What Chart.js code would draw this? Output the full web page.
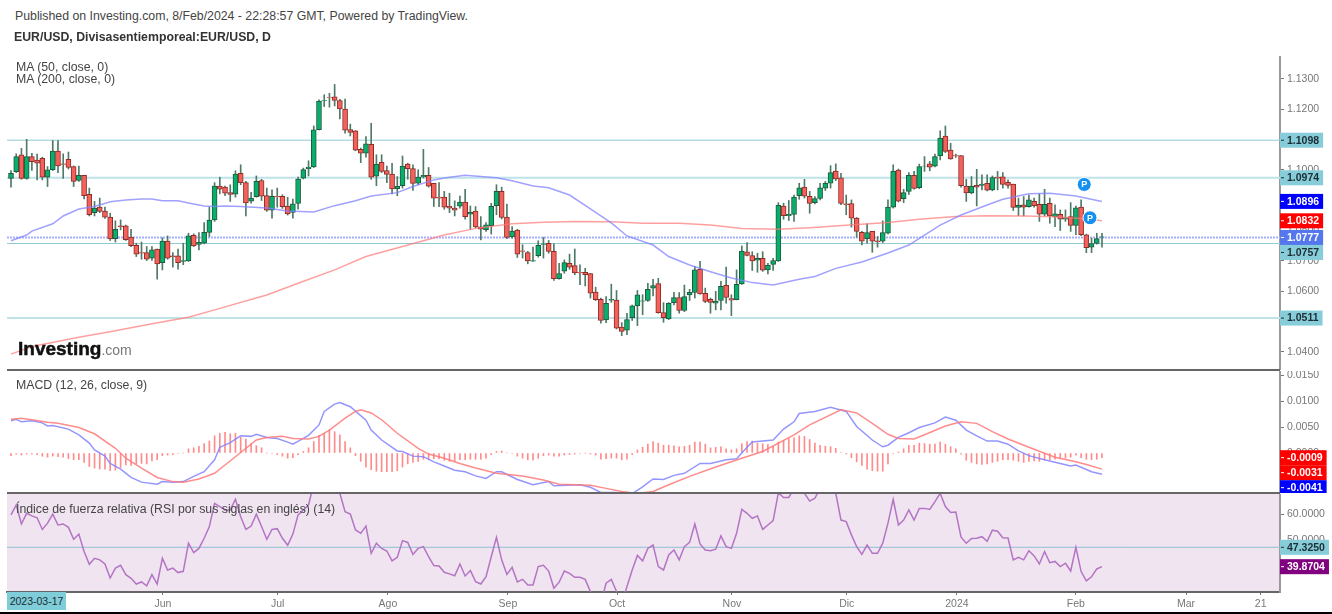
<!DOCTYPE html>
<html>
<head>
<meta charset="utf-8">
<title>EUR/USD</title>
<script src="https://cdn.jsdelivr.net/npm/chart.js@4"></script>
<style>
html, body { margin: 0; padding: 0; background: #fff; }
body { position: relative; width: 1332px; height: 614px; overflow: hidden; font-family: "Liberation Sans", Arial, sans-serif; color: #444; }
canvas { position: absolute; left: 0; }
#priceChart { top: 56px; }
#macdChart { top: 371px; }
#rsiChart { top: 494px; }
.txt { position: absolute; white-space: nowrap; font-size: 12.3px; line-height: 14px; }
.sep { position: absolute; left: 7px; width: 1273px; height: 2px; background: #666; }
#foot { position: absolute; left: 0; top: 612px; width: 1332px; height: 2px; background: #000; }
#startDate { position: absolute; left: 7px; top: 592px; width: 59px; height: 18px; line-height: 19px; background: #7fcdd9; color: #1c2c33; font-size: 10.5px; text-align: center; }
#logo { position: absolute; left: 18px; top: 337px; font-weight: bold; font-size: 19px; line-height: 24px; color: #111; -webkit-text-stroke: .5px #111; white-space: nowrap; }
#logo span { font-weight: normal; font-size: 14px; color: #777; -webkit-text-stroke: 0; }
</style>
</head>
<body>
<canvas id="priceChart" width="1332" height="314"></canvas>
<canvas id="macdChart" width="1332" height="122"></canvas>
<canvas id="rsiChart" width="1332" height="116"></canvas>
<div class="txt" style="left:15px;top:9px">Published on Investing.com, 8/Feb/2024 - 22:28:57 GMT, Powered by TradingView.</div>
<div class="txt" style="left:14px;top:30px;font-weight:bold;color:#333">EUR/USD, Divisasentiemporeal:EUR/USD, D</div>
<div class="txt" style="left:16px;top:60px">MA (50, close, 0)</div>
<div class="txt" style="left:16px;top:72px">MA (200, close, 0)</div>
<div class="txt" style="left:16px;top:378px">MACD (12, 26, close, 9)</div>
<div class="txt" style="left:16px;top:502px">Índice de fuerza relativa (RSI por sus siglas en inglés) (14)</div>
<div id="logo">Investing<span>.com</span></div>
<div class="sep" style="top:369px"></div>
<div class="sep" style="top:492px"></div>
<div id="startDate">2023-03-17</div>
<div id="foot"></div>
<script>
// daily candles, bar 1 is the first one on the left
var candleOpen = [
1.0972,1.0994,1.1050,1.0972,1.1044,1.1032,1.1038,1.0976,1.1001,1.1062,
1.1020,1.1035,1.1011,1.0965,1.0982,1.0919,1.0859,1.0877,1.0864,1.0844,
1.0773,1.0815,1.0815,1.0778,1.0751,1.0727,1.0727,1.0709,1.0739,1.0694,
1.0765,1.0716,1.0716,1.0698,1.0700,1.0784,1.0754,1.0758,1.0794,1.0835,
1.0947,1.0943,1.0925,1.0920,1.0989,1.0958,1.0897,1.0912,1.0965,1.0915,
1.0867,1.0913,1.0913,1.0881,1.0860,1.0889,1.0973,1.1004,1.1010,1.1133,
1.1228,1.1239,1.1241,1.1229,1.1201,1.1133,1.1129,1.1068,1.1055,1.1084,
1.0979,1.1025,1.0998,1.0986,1.0938,1.0948,1.1019,1.1004,1.0956,1.0977,
1.0982,1.0956,1.0910,1.0910,1.0880,1.0874,1.0880,1.0894,1.0854,1.0864,
1.0812,1.0803,1.0816,1.0882,1.0929,1.0844,1.0779,1.0801,1.0733,1.0727,
1.0699,1.0717,1.0754,1.0758,1.0731,1.0641,1.0666,1.0692,1.0684,1.0662,
1.0662,1.0658,1.0597,1.0573,1.0505,1.0570,1.0570,1.0481,1.0471,1.0512,
1.0551,1.0567,1.0569,1.0610,1.0625,1.0529,1.0508,1.0562,1.0579,1.0536,
1.0587,1.0596,1.0672,1.0593,1.0573,1.0560,1.0569,1.0619,1.0575,1.0572,
1.0624,1.0730,1.0717,1.0702,1.0708,1.0670,1.0688,1.0700,1.0881,1.0849,
1.0853,1.0915,1.0943,1.0913,1.0892,1.0906,1.0940,1.0956,1.0996,1.0974,
1.0888,1.0889,1.0841,1.0794,1.0773,1.0797,1.0766,1.0765,1.0791,1.0877,
1.0999,1.0905,1.0929,1.0982,1.0941,1.1012,1.1020,1.1012,1.1046,1.1112,
1.1065,1.1047,1.1047,1.0947,1.0924,1.0949,1.0949,1.0956,1.0934,1.0976,
1.0977,1.0959,1.0953,1.0876,1.0885,1.0879,1.0896,1.0886,1.0854,1.0890,
1.0846,1.0853,1.0837,1.0846,1.0817,1.0877,1.0786,1.0745,1.0757,1.0778];
var candleHigh = [
1.0998,1.1053,1.1071,1.1101,1.1055,1.1052,1.1042,1.1011,1.1097,1.1097,
1.1053,1.1059,1.1013,1.1013,1.0982,1.0940,1.0896,1.0907,1.0877,1.0857,
1.0832,1.0835,1.0818,1.0804,1.0758,1.0762,1.0747,1.0747,1.0739,1.0776,
1.0782,1.0727,1.0739,1.0758,1.0791,1.0789,1.0793,1.0826,1.0877,1.0958,
1.0976,1.0947,1.0951,1.0997,1.1017,1.0962,1.0926,1.0980,1.0969,1.0940,
1.0934,1.0940,1.0918,1.0910,1.0904,1.0976,1.1006,1.1030,1.1145,1.1231,
1.1248,1.1253,1.1282,1.1233,1.1234,1.1151,1.1130,1.1072,1.1110,1.1154,
1.1050,1.1050,1.1013,1.1022,1.0978,1.1046,1.1022,1.1017,1.1000,1.1068,
1.1008,1.0956,1.0958,1.0929,1.0923,1.0898,1.0914,1.0936,1.0881,1.0879,
1.0846,1.0826,1.0890,1.0951,1.0943,1.0887,1.0813,1.0804,1.0753,1.0731,
1.0745,1.0766,1.0777,1.0767,1.0756,1.0692,1.0703,1.0722,1.0739,1.0687,
1.0675,1.0659,1.0613,1.0577,1.0582,1.0623,1.0602,1.0496,1.0527,1.0554,
1.0602,1.0588,1.0626,1.0639,1.0642,1.0562,1.0562,1.0596,1.0595,1.0620,
1.0606,1.0681,1.0698,1.0610,1.0577,1.0599,1.0632,1.0679,1.0588,1.0670,
1.0749,1.0760,1.0730,1.0725,1.0730,1.0692,1.0708,1.0892,1.0890,1.0899,
1.0917,1.0956,1.0969,1.0929,1.0912,1.0956,1.0962,1.1014,1.1020,1.0989,
1.0917,1.0901,1.0843,1.0797,1.0822,1.0797,1.0780,1.0832,1.0901,1.1017,
1.1003,1.0936,1.0991,1.0995,1.1019,1.1044,1.1028,1.1052,1.1129,1.1145,
1.1088,1.1052,1.1047,1.0969,1.0978,1.1002,1.0984,1.0984,1.0980,1.0995,
1.0991,1.0967,1.0953,1.0907,1.0912,1.0917,1.0907,1.0921,1.0936,1.0907,
1.0885,1.0868,1.0868,1.0892,1.0881,1.0901,1.0788,1.0775,1.0791,1.0791];
var candleLow = [
1.0943,1.0991,1.0969,1.0969,1.0998,1.0967,1.0967,1.0945,1.0998,1.0991,
1.0972,1.1003,1.0945,1.0962,1.0904,1.0848,1.0848,1.0859,1.0840,1.0767,
1.0762,1.0802,1.0767,1.0747,1.0714,1.0705,1.0701,1.0701,1.0639,1.0670,
1.0705,1.0679,1.0672,1.0687,1.0698,1.0747,1.0736,1.0756,1.0780,1.0830,
1.0921,1.0915,1.0896,1.0910,1.0951,1.0848,1.0890,1.0910,1.0899,1.0863,
1.0841,1.0877,1.0873,1.0851,1.0841,1.0870,1.0970,1.0980,1.1008,1.1132,
1.1209,1.1207,1.1211,1.1168,1.1121,1.1112,1.1063,1.1024,1.1042,1.0969,
1.0948,1.0991,1.0958,1.0921,1.0915,1.0940,1.0969,1.0932,1.0951,1.0973,
1.0943,1.0879,1.0879,1.0870,1.0859,1.0848,1.0874,1.0837,1.0804,1.0808,
1.0769,1.0797,1.0788,1.0852,1.0838,1.0773,1.0775,1.0711,1.0709,1.0690,
1.0698,1.0712,1.0709,1.0725,1.0635,1.0639,1.0659,1.0672,1.0654,1.0621,
1.0617,1.0577,1.0569,1.0494,1.0496,1.0563,1.0475,1.0453,1.0456,1.0503,
1.0486,1.0522,1.0566,1.0584,1.0527,1.0497,1.0506,1.0554,1.0527,1.0532,
1.0569,1.0577,1.0590,1.0562,1.0527,1.0538,1.0538,1.0560,1.0519,1.0571,
1.0622,1.0716,1.0668,1.0662,1.0665,1.0657,1.0668,1.0698,1.0837,1.0833,
1.0830,1.0903,1.0907,1.0857,1.0888,1.0901,1.0932,1.0940,1.0965,1.0885,
1.0852,1.0811,1.0778,1.0752,1.0758,1.0728,1.0745,1.0760,1.0789,1.0874,
1.0894,1.0892,1.0919,1.0936,1.0938,1.0995,1.0997,1.1010,1.1033,1.1057,
1.1035,1.1041,1.0943,1.0896,1.0921,1.0881,1.0934,1.0931,1.0931,1.0934,
1.0940,1.0940,1.0866,1.0849,1.0848,1.0877,1.0877,1.0830,1.0849,1.0824,
1.0813,1.0800,1.0830,1.0797,1.0786,1.0783,1.0727,1.0727,1.0755,1.0745];
var candleClose = [
1.0989,1.1044,1.0972,1.1044,1.1027,1.1022,1.0976,1.1000,1.1062,1.1013,
1.1018,1.1008,1.0962,1.0982,1.0915,1.0852,1.0874,1.0863,1.0844,1.0772,
1.0804,1.0813,1.0770,1.0750,1.0722,1.0725,1.0705,1.0736,1.0690,1.0765,
1.0709,1.0714,1.0694,1.0701,1.0782,1.0749,1.0761,1.0794,1.0834,1.0947,
1.0936,1.0923,1.0919,1.0986,1.0958,1.0891,1.0907,1.0962,1.0913,1.0867,
1.0913,1.0912,1.0879,1.0855,1.0888,1.0970,1.1001,1.1009,1.1132,1.1227,
1.1229,1.1238,1.1229,1.1201,1.1131,1.1124,1.1065,1.1055,1.1086,1.0976,
1.1019,1.0995,1.0985,1.0937,1.0946,1.1013,1.1004,1.0955,1.0976,1.0982,
1.0946,1.0907,1.0907,1.0877,1.0874,1.0867,1.0894,1.0846,1.0860,1.0812,
1.0804,1.0819,1.0880,1.0929,1.0843,1.0777,1.0798,1.0722,1.0731,1.0700,
1.0701,1.0751,1.0756,1.0731,1.0641,1.0658,1.0694,1.0679,1.0660,1.0660,
1.0654,1.0593,1.0572,1.0503,1.0560,1.0573,1.0478,1.0467,1.0506,1.0551,
1.0588,1.0568,1.0606,1.0618,1.0529,1.0512,1.0560,1.0579,1.0536,1.0582,
1.0596,1.0670,1.0591,1.0566,1.0563,1.0567,1.0616,1.0579,1.0570,1.0622,
1.0732,1.0718,1.0700,1.0708,1.0669,1.0685,1.0701,1.0883,1.0849,1.0853,
1.0910,1.0941,1.0913,1.0889,1.0905,1.0941,1.0956,1.0991,1.0970,1.0889,
1.0885,1.0841,1.0797,1.0765,1.0793,1.0765,1.0763,1.0793,1.0877,1.0996,
1.0897,1.0925,1.0982,1.0939,1.1011,1.1013,1.1009,1.1044,1.1105,1.1061,
1.1036,1.1046,1.0948,1.0924,1.0947,1.0943,1.0953,1.0933,1.0975,1.0973,
1.0952,1.0949,1.0876,1.0883,1.0877,1.0901,1.0882,1.0854,1.0886,1.0848,
1.0855,1.0837,1.0843,1.0817,1.0875,1.0786,1.0743,1.0757,1.0773,1.0779];

// moving averages, read at the bars listed next to them
var ma50Bars = [1,4,5,9,11,14,17,20,23,26,28,30,33,35,38,40,42,45,50,54,59,63,67,70,75,78,82,84,88,94,97,101,104,108,112,116,119,124,127,131,135,139,143,147,152,155,159,164,169,173,176,179,183,188,191,196,200,205,210];
var ma50Values = [1.0766,1.0785,1.0798,1.0822,1.0848,1.0871,1.0879,1.0895,1.0901,1.0904,1.0904,1.0898,1.0898,1.0891,1.0881,1.0879,1.0881,1.0879,1.0874,1.0864,1.0861,1.0882,1.0898,1.0914,1.0925,1.0945,1.0967,1.0973,1.0982,1.0974,1.0964,1.0947,1.0941,1.0917,1.0871,1.0825,1.0782,1.0752,1.0714,1.0686,1.0664,1.0643,1.0628,1.0620,1.0639,1.0648,1.0675,1.0696,1.0726,1.0752,1.0785,1.0818,1.0851,1.0884,1.0903,1.0921,1.0923,1.0914,1.0896];
var ma200Bars = [1,5,14,21,28,35,40,50,56,63,69,76,84,90,97,103,109,116,122,129,135,141,148,154,161,169,175,182,188,195,201,207,210];
var ma200Values = [1.0392,1.0417,1.0448,1.0469,1.0492,1.0514,1.0538,1.0587,1.0626,1.0670,1.0714,1.0747,1.0785,1.0807,1.0822,1.0827,1.0830,1.0829,1.0824,1.0824,1.0818,1.0807,1.0804,1.0809,1.0817,1.0826,1.0837,1.0846,1.0849,1.0848,1.0845,1.0838,1.0832];

// support and resistance levels, last price
var levelValues = [1.1098,1.0974,1.0757,1.0511];
var levelStyles = [[1,'#8fcbd3'],[2,'#bfe3e8'],[1,'#8fcbd3'],[2,'#bfe3e8']];
var lastPrice = 1.0777;
var badgeBars = [206.6,207.7];
var badgeValues = [1.0952,1.0842];

// macd panel
var macdBars = [1,2,3,5,7,8,9,12,14,16,17,19,20,22,24,26,29,30,32,34,36,38,40,41,43,45,47,48,50,52,54,55,57,58,60,61,63,64,66,69,70,72,75,76,78,80,82,84,86,88,90,92,94,95,98,101,104,105,110,112,114,117,118,120,122,124,126,128,130,133,135,138,140,142,143,147,149,151,152,155,158,161,163,166,168,169,171,173,175,178,180,182,184,186,188,190,192,194,196,199,202,204,205,208,210];
var macdValues = [.0062,.0065,.0060,.0062,.0058,.0052,.0053,.0046,.0035,.0019,.0006,-.0006,-.0020,-.0031,-.0047,-.0056,-.0060,-.0055,-.0056,-.0055,-.0045,-.0036,-.0013,.0011,.0020,.0033,.0032,.0036,.0030,.0028,.0021,.0017,.0028,.0034,.0054,.0080,.0094,.0097,.0089,.0063,.0044,.0025,.0004,.0003,-.0006,-.0007,-.0017,-.0025,-.0033,-.0036,-.0044,-.0049,-.0036,-.0036,-.0051,-.0061,-.0055,-.0063,-.0061,-.0066,-.0076,-.0076,-.0083,-.0078,-.0065,-.0050,-.0051,-.0043,-.0039,-.0020,-.0020,-.0013,-.0011,.0011,.0021,.0025,.0046,.0060,.0076,.0080,.0088,.0080,.0051,.0025,.0012,.0015,.0030,.0039,.0049,.0058,.0069,.0063,.0044,.0033,.0023,.0023,.0017,.0004,-.0005,-.0013,-.0020,-.0025,-.0023,-.0036,-.0041];
var signalBars = [1,3,5,8,10,14,17,21,23,26,29,32,34,37,40,42,45,48,50,53,55,58,60,62,65,67,68,70,72,75,79,81,84,87,90,94,99,103,106,112,115,118,121,124,127,131,136,141,145,151,154,160,163,166,169,171,174,176,180,183,186,189,192,196,201,205,207,210];
var signalValues = [.0065,.0067,.0064,.0059,.0057,.0049,.0037,.0009,-.0010,-.0029,-.0047,-.0055,-.0056,-.0050,-.0039,-.0023,.0001,.0025,.0030,.0032,.0028,.0027,.0032,.0044,.0067,.0080,.0083,.0077,.0064,.0038,.0009,-.0002,-.0010,-.0020,-.0029,-.0039,-.0044,-.0052,-.0060,-.0062,-.0068,-.0074,-.0078,-.0074,-.0061,-.0045,-.0027,-.0010,.0003,.0035,.0054,.0083,.0077,.0057,.0036,.0028,.0027,.0035,.0052,.0060,.0057,.0041,.0027,.0011,-.0008,-.0017,-.0022,-.0031];
var histValues = [
-.0005,-.0002,-.0004,-.0002,-.0002,-.0003,-.0006,-.0008,-.0006,-.0007,
-.0008,-.0011,-.0013,-.0013,-.0018,-.0026,-.0029,-.0031,-.0031,-.0034,
-.0033,-.0028,-.0023,-.0024,-.0021,-.0020,-.0021,-.0015,-.0013,-.0005,
-.0004,-.0003,-.0001,0,.0008,.0010,.0013,.0018,.0023,.0033,
.0038,.0040,.0037,.0038,.0030,.0027,.0018,.0014,.0010,0,
-.0001,-.0003,-.0006,-.0010,-.0009,-.0003,.0003,.0010,.0022,.0034,
.0038,.0045,.0041,.0035,.0022,.0010,-.0005,-.0016,-.0027,-.0032,
-.0035,-.0036,-.0036,-.0036,-.0034,-.0027,-.0021,-.0018,-.0016,-.0012,
-.0013,-.0011,-.0011,-.0014,-.0016,-.0016,-.0013,-.0013,-.0012,-.0012,
-.0012,-.0010,-.0003,.0003,.0004,0,-.0001,-.0006,-.0010,-.0013,
-.0014,-.0010,-.0005,-.0004,-.0006,-.0006,-.0004,-.0003,-.0002,-.0001,
0,-.0002,-.0004,-.0012,-.0011,-.0010,-.0010,-.0013,-.0012,-.0003,
.0006,.0011,.0017,.0022,.0019,.0015,.0015,.0014,.0012,.0013,
.0015,.0021,.0021,.0017,.0010,.0011,.0012,.0008,.0006,.0008,
.0018,.0022,.0023,.0019,.0018,.0016,.0013,.0021,.0024,.0028,
.0029,.0033,.0032,.0026,.0019,.0015,.0013,.0012,.0009,.0001,
-.0002,-.0009,-.0017,-.0024,-.0031,-.0034,-.0035,-.0035,-.0021,-.0001,
.0002,.0008,.0015,.0015,.0019,.0018,.0017,.0017,.0021,.0017,
.0012,.0008,-.0002,-.0014,-.0018,-.0021,-.0022,-.0021,-.0018,-.0016,
-.0013,-.0013,-.0014,-.0016,-.0018,-.0016,-.0015,-.0016,-.0014,-.0013,
-.0012,-.0010,-.0010,-.0008,-.0004,-.0009,-.0012,-.0013,-.0012,-.0009];

// rsi panel
var rsiValues = [
59.8,63.6,56.3,60.4,59.4,58.7,54.2,56.6,60.1,55.9,
56.3,55.0,50.4,52.4,45.7,40.8,43.1,42.5,40.9,35.5,
39.3,40.4,36.8,35.4,33.2,34.0,32.5,36.8,33.2,43.1,
38.6,39.3,37.6,38.1,48.9,45.3,46.9,50.8,55.3,64.2,
63.0,61.7,61.7,65.8,59.1,54.2,55.5,60.1,55.3,50.4,
54.2,54.5,50.8,48.1,52.4,59.8,61.7,63.6,71.9,74.5,
77.1,75.8,73.2,68.1,61.0,60.1,54.0,52.7,55.5,45.0,
48.9,46.9,45.9,42.1,43.5,49.9,49.2,44.6,46.9,47.6,
43.7,40.3,40.1,37.7,37.1,36.4,40.9,36.3,38.4,34.1,
33.2,36.0,43.7,51.2,42.5,36.9,39.6,34.0,35.0,32.8,
32.8,39.9,40.4,38.2,31.6,33.9,38.2,37.3,35.8,35.8,
35.0,30.3,27.1,25.8,33.5,35.0,30.3,25.8,32.2,38.6,
44.2,42.1,46.9,48.2,39.9,38.6,44.4,46.3,42.5,47.6,
49.2,56.3,48.6,46.3,46.0,46.6,51.7,47.6,46.9,52.7,
61.9,60.4,58.5,59.4,54.2,55.9,57.6,68.3,66.5,66.5,
70.0,71.9,68.1,65.1,66.2,70.0,71.9,71.9,68.1,57.8,
57.2,52.1,47.6,44.6,48.2,45.0,45.0,48.9,56.6,65.8,
55.9,57.8,61.7,57.8,62.3,62.3,61.9,64.9,68.1,63.0,
60.7,60.9,51.2,48.9,50.7,50.8,51.4,49.6,53.9,53.5,
51.0,50.9,42.5,43.5,42.5,46.0,44.0,40.9,45.7,41.4,
41.9,39.9,41.2,38.2,47.3,38.0,34.4,36.0,39.0,39.87];
var rsiLevel = 47.325;

// axes
var xTickBars = [30.1,52.1,73.2,96.2,117.1,139.1,161.1,182.2,205,226.1,240.4];
var xTickLabels = ['Jun','Jul','Ago','Sep','Oct','Nov','Dic','2024','Feb','Mar','21'];
var priceTicks = [1.13,1.12,1.11,1.10,1.09,1.08,1.07,1.06,1.05,1.04];
var macdTicks = [.015,.01,.005,0,-.005];
var rsiTicks = [60,50,40];

// tags on the right axis, later ones are painted on top
var priceTagValues = [1.1098,1.0974,1.0896,1.0832,1.0777,1.0757,1.0511];
var priceTagColors = ['#86cdd9','#86cdd9','#0000ff','#ff0000','#5577ee','#86cdd9','#86cdd9'];
var macdTagValues = [-.0009,-.0031,-.0041];
var macdTagColors = ['#ff0000','#ff0000','#0000ff'];
var rsiTagValues = [47.325,39.8704];
var rsiTagColors = ['#86cdd9','#800080'];

var xMin = 0.234, xMax = 244.1;
var upColor = '#0aae6c', upEdge = '#1d5a3e', downColor = '#f2615a', downEdge = '#8e2c28';
var wickColor = '#4f7a66';
var axisColor = '#999', tickColor = '#777', labelColor = '#777';
var axisFont = { family: '"Liberation Sans", Arial, sans-serif', size: 10.5 };

function points(bars, values) {
    var out = [];
    for (var i = 0; i < bars.length; i++) out.push({ x: bars[i], y: values[i] });
    return out;
}
function everyBar(values) {
    var out = [];
    for (var i = 0; i < values.length; i++) out.push({ x: i + 1, y: values[i] });
    return out;
}
function flat(value) {
    return [{ x: xMin, y: value }, { x: xMax, y: value }];
}
function lineSet(data, color, width, order) {
    return { type: 'line', data: data, borderColor: color, borderWidth: width, pointRadius: 0, tension: 0, order: order };
}

function xAxis(show) {
    return {
        type: 'linear', min: xMin, max: xMax, offset: false, display: show,
        grid: { offset: false, drawOnChartArea: false, drawTicks: true, tickLength: 3, tickColor: tickColor },
        border: { color: '#666', width: 2 },
        afterBuildTicks: function (scale) {
            scale.ticks = xTickBars.map(function (v) { return { value: v }; });
        },
        afterFit: function (scale) {
            // hidden panels must not reserve room for an axis
            scale.height = show ? 18 : 0;
            scale.paddingLeft = 0; scale.paddingRight = 0;
        },
        ticks: {
            autoSkip: false, maxRotation: 0, color: labelColor, font: axisFont, padding: 3,
            callback: function (v, i) { return xTickLabels[i]; }
        }
    };
}
function yAxis(min, max, ticks, digits) {
    return {
        type: 'linear', position: 'right', min: min, max: max,
        grid: { drawOnChartArea: false, drawTicks: true, tickLength: 4, tickColor: tickColor },
        border: { color: axisColor, width: 2 },
        afterBuildTicks: function (scale) {
            scale.ticks = ticks.map(function (v) { return { value: v }; });
        },
        afterFit: function (scale) {
            scale.width = 52; scale.paddingTop = 0; scale.paddingBottom = 0;
        },
        ticks: {
            autoSkip: false, color: labelColor, font: axisFont, padding: 3,
            callback: function (v) { return v.toFixed(digits); }
        }
    };
}

// value tags, pushed down when they would overlap like on the original
function tagPlugin(values, colors, digits) {
    return {
        id: 'tags',
        afterDraw: function (chart) {
            var ctx = chart.ctx, scale = chart.scales.y, h = 15;
            var pos = values.map(function (v) { return scale.getPixelForValue(v); });
            for (var i = 1; i < pos.length; i++) {
                if (pos[i] - pos[i - 1] < h) pos[i] = pos[i - 1] + h;
            }
            ctx.save();
            ctx.font = 'bold 10.5px "Liberation Sans", Arial, sans-serif';
            ctx.textBaseline = 'middle';
            for (var j = 0; j < values.length; j++) {
                var text = values[j].toFixed(digits);
                var left = chart.chartArea.right;
                var w = 7 + ctx.measureText(text).width + 4;
                ctx.fillStyle = colors[j];
                ctx.fillRect(left, pos[j] - h / 2, w, h);
                var light = colors[j] == '#86cdd9';
                ctx.fillStyle = light ? '#1c2c33' : '#fff';
                ctx.fillRect(left + 1, pos[j] - 0.5, 3, 1);
                ctx.fillText(text, left + 7, pos[j] + 0.5);
            }
            ctx.restore();
        }
    };
}

var baseOptions = function (scales) {
    return {
        responsive: false, animation: false,
        // badges have a large radius, do not let them shrink the panel
        layout: { autoPadding: false, padding: { left: 7, right: 0, top: 0, bottom: 0 } },
        plugins: { legend: { display: false }, tooltip: { enabled: false }, title: { display: false } },
        scales: scales
    };
};

// price panel
var bodyFill = [], bodyEdge = [], bodyData = [], wickData = [];
for (var i = 0; i < candleOpen.length; i++) {
    var up = candleClose[i] >= candleOpen[i];
    bodyFill.push(up ? upColor : downColor);
    bodyEdge.push(up ? upEdge : downEdge);
    bodyData.push({ x: i + 1, y: [candleOpen[i], candleClose[i]] });
    wickData.push({ x: i + 1, y: [candleLow[i], candleHigh[i]] });
}
var priceSets = [];
for (var k = 0; k < levelValues.length; k++) {
    priceSets.push(lineSet(flat(levelValues[k]), levelStyles[k][1], levelStyles[k][0], 6));
}
var lastLine = lineSet(flat(lastPrice), '#a5b0ff', 2, 5);
lastLine.borderDash = [2, 1];
priceSets.push(lastLine);
priceSets.push({ type: 'bar', data: wickData, backgroundColor: wickColor, barThickness: 1, grouped: false, order: 4 });
priceSets.push({ type: 'bar', data: bodyData, backgroundColor: bodyFill, borderColor: bodyEdge, borderWidth: 1, borderSkipped: false, barThickness: 5, grouped: false, order: 3 });
priceSets.push(lineSet(points(ma50Bars, ma50Values), 'rgba(130,130,255,.75)', 1.5, 2));
priceSets.push(lineSet(points(ma200Bars, ma200Values), 'rgba(255,120,120,.7)', 1.5, 2));
priceSets.push({ type: 'scatter', data: points(badgeBars, badgeValues), pointRadius: 7, pointBackgroundColor: '#1592f0', pointBorderColor: '#fff', pointBorderWidth: 1, order: 1 });

var badgeText = {
    id: 'badgeText',
    afterDatasetsDraw: function (chart) {
        var meta = chart.getDatasetMeta(chart.data.datasets.length - 1);
        var ctx = chart.ctx;
        ctx.save();
        ctx.fillStyle = '#fff';
        ctx.font = 'bold 9px "Liberation Sans", Arial, sans-serif';
        ctx.textAlign = 'center';
        ctx.textBaseline = 'middle';
        meta.data.forEach(function (p) { ctx.fillText('P', p.x, p.y + 0.5); });
        ctx.restore();
    }
};

new Chart(document.getElementById('priceChart'), {
    type: 'bar',
    data: { datasets: priceSets },
    options: baseOptions({ x: xAxis(false), y: yAxis(1.03396, 1.13759, priceTicks, 4) }),
    plugins: [badgeText, tagPlugin(priceTagValues, priceTagColors, 4)]
});

// macd panel
new Chart(document.getElementById('macdChart'), {
    type: 'bar',
    data: {
        datasets: [
            { type: 'bar', data: everyBar(histValues), backgroundColor: 'rgba(255,110,110,.8)', barThickness: 1, grouped: false, order: 3 },
            lineSet(points(signalBars, signalValues), 'rgba(255,120,120,.85)', 1.5, 1),
            lineSet(points(macdBars, macdValues), 'rgba(130,130,255,.85)', 1.5, 2)
        ]
    },
    options: baseOptions({ x: xAxis(false), y: yAxis(-.00769, .01577, macdTicks, 4) }),
    plugins: [tagPlugin(macdTagValues, macdTagColors, 4)]
});

// rsi panel
var rsiBackground = {
    id: 'rsiBackground',
    beforeDraw: function (chart) {
        var a = chart.chartArea;
        chart.ctx.fillStyle = '#f0e4f1';
        chart.ctx.fillRect(a.left, a.top, a.right - a.left, a.bottom - a.top);
    }
};
new Chart(document.getElementById('rsiChart'), {
    type: 'line',
    data: {
        datasets: [
            lineSet(flat(rsiLevel), '#8fc0d2', 1, 2),
            lineSet(everyBar(rsiValues), '#b474c4', 1.5, 1)
        ]
    },
    options: baseOptions({ x: xAxis(true), y: yAxis(30.13, 67.83, rsiTicks, 4) }),
    plugins: [rsiBackground, tagPlugin(rsiTagValues, rsiTagColors, 4)]
});
</script>
</body>
</html>
